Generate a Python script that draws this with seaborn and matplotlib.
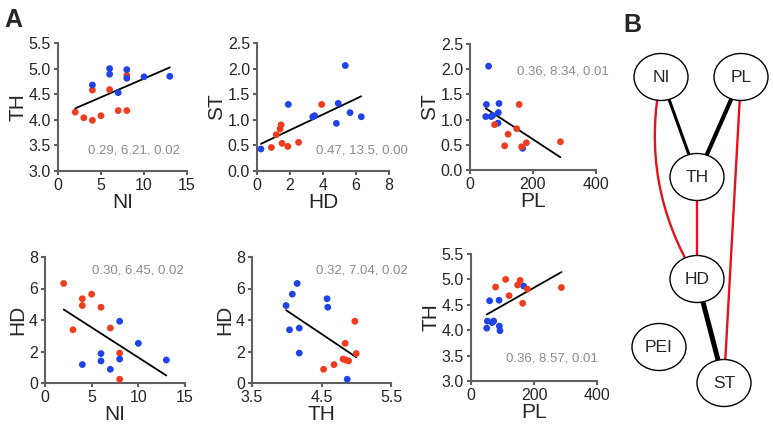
import numpy as np
import pandas as pd
import matplotlib
matplotlib.use('Agg')
import matplotlib.pyplot as plt
import seaborn as sns
from matplotlib.patches import Ellipse, FancyArrowPatch
from matplotlib.ticker import FormatStrFormatter

sns.set_style("white")
plt.rcParams['font.family'] = ['Liberation Sans', 'DejaVu Sans']

# 17 individuals, two groups (first 9 = G1, last 8 = G2)
ni = [2, 3, 4, 4, 5, 6, 7, 8, 8, 4, 6, 6, 7, 8, 8, 10, 13]
th = [4.15, 4.04, 4.58, 3.99, 4.08, 4.59, 4.18, 4.18, 4.87,
      4.68, 5.00, 4.89, 4.53, 4.98, 4.81, 4.84, 4.85]
hd = [6.32, 3.38, 5.35, 4.92, 5.64, 4.81, 3.49, 1.90, 0.24,
      1.17, 1.87, 1.40, 0.87, 3.92, 1.52, 2.52, 1.46]
st = [1.06, 1.06, 2.06, 1.32, 1.14, 0.93, 1.08, 1.30, 0.43,
      0.71, 0.48, 0.82, 0.46, 1.30, 0.54, 0.56, 0.90]
pl = [67, 50, 59, 92, 90, 89, 72, 52, 167, 121, 110, 148, 164, 156, 179, 287, 78]
group = ['G1'] * 9 + ['G2'] * 8

df = pd.DataFrame({'NI': ni, 'TH': th, 'HD': hd, 'ST': st, 'PL': pl, 'group': group})

# panels: x, y, colour of G1, stats text
pairs = [('NI', 'TH'), ('HD', 'ST'), ('PL', 'ST'), ('NI', 'HD'), ('TH', 'HD'), ('PL', 'TH')]
g1_red = [True, False, False, True, False, False]
stats = ['0.29, 6.21, 0.02', '0.47, 13.5, 0.00', '0.36, 8.34, 0.01',
         '0.30, 6.45, 0.02', '0.32, 7.04, 0.02', '0.36, 8.57, 0.01']
xticks = [[0, 5, 10, 15], [0, 2, 4, 6, 8], [0, 200, 400],
          [0, 5, 10, 15], [3.5, 4.5, 5.5], [0, 200, 400]]
yticks = [[3.0, 3.5, 4.0, 4.5, 5.0, 5.5], [0.0, 0.5, 1.0, 1.5, 2.0, 2.5],
          [0.0, 0.5, 1.0, 1.5, 2.0, 2.5], [0, 2, 4, 6, 8], [0, 2, 4, 6, 8],
          [3.0, 3.5, 4.0, 4.5, 5.0, 5.5]]

W, H = 773, 434
RED = '#f03c1e'
BLUE = '#1f43e6'

# axes boxes in pixels (left, top, right, bottom)
boxes = [(58, 43, 187, 171), (257, 43, 389, 171), (470, 44, 596, 170),
         (45, 257, 185, 383), (252, 257, 391, 383), (471, 254, 597, 381)]
# stats text position (axes fraction) and alignment
text_pos = [(0.946, 0.164, 'right'), (0.447, 0.164, 'left'), (0.373, 0.78, 'left'),
            (0.336, 0.889, 'left'), (0.46, 0.889, 'left'), (0.278, 0.18, 'left')]

fig = plt.figure(figsize=(W / 100, H / 100), dpi=100)

for i, (xc, yc) in enumerate(pairs):
    l, t, r, b = boxes[i]
    ax = fig.add_axes([l / W, 1 - b / H, (r - l) / W, (b - t) / H])
    pal = {'G1': RED, 'G2': BLUE} if g1_red[i] else {'G1': BLUE, 'G2': RED}
    sns.regplot(data=df, x=xc, y=yc, scatter=False, ci=None, ax=ax,
                line_kws={'color': 'black', 'lw': 1.3})
    sns.scatterplot(data=df, x=xc, y=yc, hue='group', palette=pal, s=24,
                    edgecolor='none', legend=False, ax=ax, zorder=3)
    ax.set_xlim(xticks[i][0], xticks[i][-1])
    ax.set_ylim(yticks[i][0], yticks[i][-1])
    ax.set_xticks(xticks[i])
    ax.set_yticks(yticks[i])
    if isinstance(yticks[i][0], float):
        ax.yaxis.set_major_formatter(FormatStrFormatter('%.1f'))
    if isinstance(xticks[i][0], float):
        ax.xaxis.set_major_formatter(FormatStrFormatter('%.1f'))
    for s in ['top', 'right']:
        ax.spines[s].set_visible(False)
    for s in ['left', 'bottom']:
        ax.spines[s].set_color('#606060')
        ax.spines[s].set_linewidth(1.5)
    ax.tick_params(direction='out', length=3, width=1.5, color='#606060',
                   labelsize=11.5, pad=2, bottom=True, left=True)
    ax.set_xlabel(xc, fontsize=15, labelpad=0)
    ax.set_ylabel(yc, fontsize=15, labelpad=1)
    tx, ty, ha = text_pos[i]
    ax.text(tx, ty, stats[i], transform=ax.transAxes, ha=ha, va='center',
            fontsize=9.5, color='#8c8c8c', clip_on=False)

fig.text(4 / W, 1 - 8 / H, 'A', fontsize=18, fontweight='bold', va='top')
fig.text(623 / W, 1 - 13 / H, 'B', fontsize=18, fontweight='bold', va='top')

# B: network of correlations
nodes = {'NI': (661, 77), 'PL': (741, 77), 'TH': (697, 177),
         'HD': (697, 279), 'PEI': (659, 347), 'ST': (724, 383)}
edges = [('NI', 'TH', 'black', 2.2, 0.0), ('PL', 'TH', 'black', 3.0, 0.0),
         ('HD', 'ST', 'black', 3.6, 0.0), ('NI', 'HD', '#e3121b', 1.7, 0.2),
         ('TH', 'HD', '#e3121b', 1.7, 0.0), ('PL', 'ST', '#e3121b', 1.7, 0.0)]

axb = fig.add_axes([610 / W, 0, 163 / W, 1])
axb.set_xlim(610, W)
axb.set_ylim(H, 0)
axb.axis('off')
for a, b2, c, lw, rad in edges:
    p = FancyArrowPatch(nodes[a], nodes[b2], arrowstyle='-', color=c, lw=lw,
                        shrinkA=0, shrinkB=0, connectionstyle=f'arc3,rad={rad}')
    axb.add_patch(p)
for name, (x, y) in nodes.items():
    axb.add_patch(Ellipse((x, y), 54, 47, facecolor='white', edgecolor='black',
                          lw=1.0, zorder=3))
    axb.text(x, y, name, ha='center', va='center', fontsize=12.5, zorder=4)

fig.savefig('out.png', dpi=100)
